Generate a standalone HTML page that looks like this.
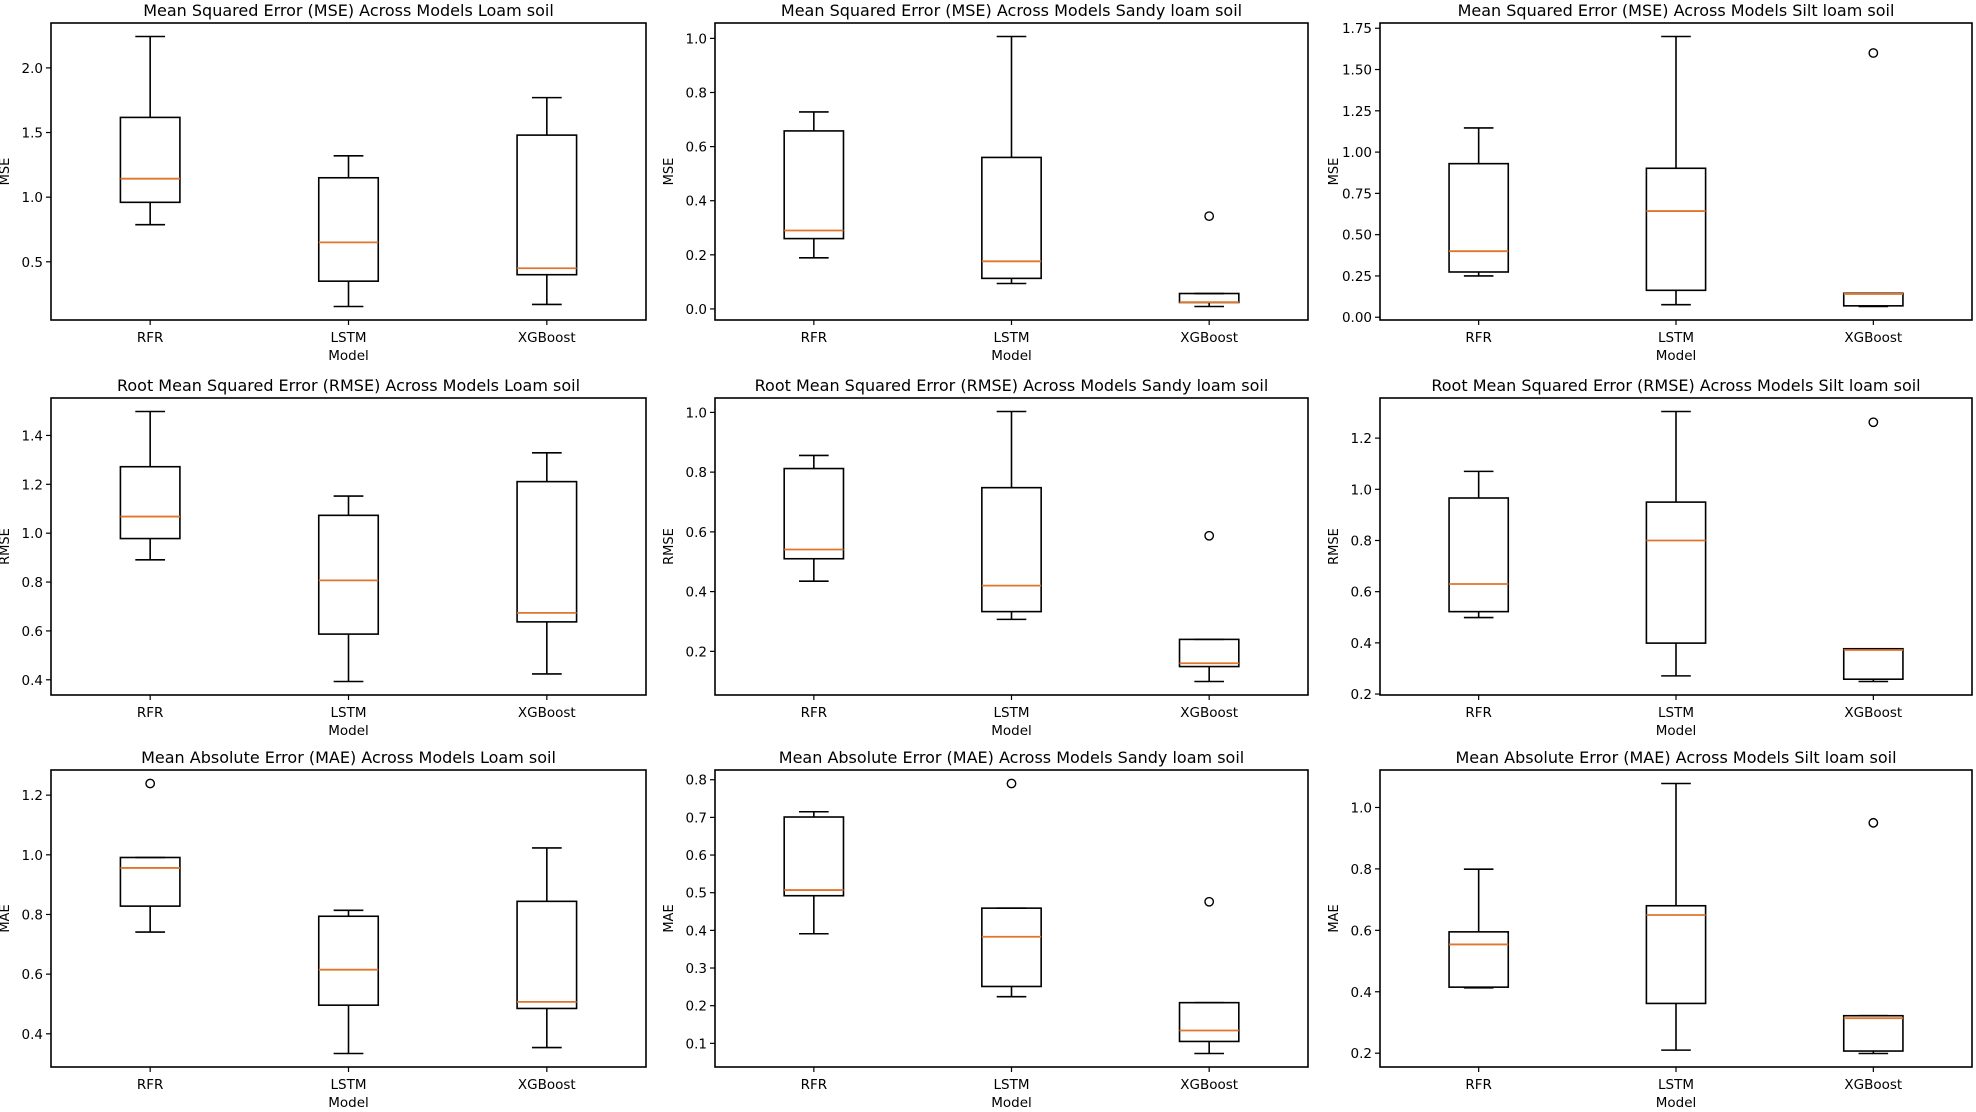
<!DOCTYPE html>
<html><head><meta charset="utf-8"><style>
body{margin:0;background:#fff;}
svg{display:block;font-family:"DejaVu Sans","Liberation Sans",sans-serif;}
</style></head><body>
<svg id="fig" width="1976" height="1112" viewBox="0 0 1976 1112"></svg>
<script>
const categories = ["RFR","LSTM","XGBoost"];
const titles = [
 "Mean Squared Error (MSE) Across Models Loam soil","Mean Squared Error (MSE) Across Models Sandy loam soil","Mean Squared Error (MSE) Across Models Silt loam soil",
 "Root Mean Squared Error (RMSE) Across Models Loam soil","Root Mean Squared Error (RMSE) Across Models Sandy loam soil","Root Mean Squared Error (RMSE) Across Models Silt loam soil",
 "Mean Absolute Error (MAE) Across Models Loam soil","Mean Absolute Error (MAE) Across Models Sandy loam soil","Mean Absolute Error (MAE) Across Models Silt loam soil"];
const ylabels = ["MSE","MSE","MSE","RMSE","RMSE","RMSE","MAE","MAE","MAE"];
// each stat: [whiskerLow, Q1, median, Q3, whiskerHigh] per model
const stats = [
 [[0.787,0.96,1.143,1.617,2.243],[0.154,0.35,0.65,1.15,1.32],[0.17,0.40,0.45,1.48,1.77]],
 [[0.189,0.26,0.29,0.658,0.728],[0.094,0.113,0.176,0.56,1.007],[0.009,0.024,0.025,0.057,0.057]],
 [[0.25,0.274,0.40,0.93,1.146],[0.076,0.163,0.643,0.902,1.70],[0.065,0.069,0.141,0.145,0.145]],
 [[0.891,0.978,1.068,1.272,1.498],[0.393,0.587,0.807,1.073,1.152],[0.424,0.637,0.674,1.211,1.329]],
 [[0.435,0.51,0.541,0.812,0.856],[0.307,0.333,0.42,0.748,1.003],[0.099,0.149,0.16,0.240,0.240]],
 [[0.499,0.522,0.63,0.966,1.07],[0.271,0.399,0.80,0.95,1.304],[0.249,0.258,0.372,0.377,0.377]],
 [[0.741,0.828,0.956,0.991,0.991],[0.334,0.496,0.615,0.794,0.814],[0.354,0.485,0.507,0.844,1.023]],
 [[0.391,0.492,0.507,0.701,0.715],[0.224,0.251,0.383,0.459,0.459],[0.073,0.105,0.134,0.208,0.208]],
 [[0.413,0.415,0.554,0.595,0.799],[0.21,0.362,0.65,0.68,1.078],[0.199,0.207,0.314,0.322,0.322]]];
const fliers = [
 [[],[],[]],[[],[],[0.343]],[[],[],[1.60]],
 [[],[],[]],[[],[],[0.587]],[[],[],[1.262]],
 [[1.239],[],[]],[[],[0.790],[0.476]],[[],[],[0.95]]];
const ticks = [
 [0.5,1.0,1.5,2.0],[0.0,0.2,0.4,0.6,0.8,1.0],[0.00,0.25,0.50,0.75,1.00,1.25,1.50,1.75],
 [0.4,0.6,0.8,1.0,1.2,1.4],[0.2,0.4,0.6,0.8,1.0],[0.2,0.4,0.6,0.8,1.0,1.2],
 [0.4,0.6,0.8,1.0,1.2],[0.1,0.2,0.3,0.4,0.5,0.6,0.7,0.8],[0.2,0.4,0.6,0.8,1.0]];
const tickDecimals = [1,1,2,1,1,1,1,1,1];

const NS="http://www.w3.org/2000/svg";
const svg=document.getElementById('fig');
const colX=[[51,646],[715,1308],[1380,1972]];
const rowY=[[23,320],[398,695],[770,1067]];
function mk(tag,attrs,parent){const e=document.createElementNS(NS,tag);for(const k in attrs)e.setAttribute(k,attrs[k]);(parent||svg).appendChild(e);return e;}

for(let p=0;p<9;p++){
 const r=Math.floor(p/3),c=p%3;
 const [x0,x1]=colX[c],[y0,y1]=rowY[r];
 const g=mk('g',{});
 
 
 let lo=Infinity,hi=-Infinity;
 stats[p].forEach((s,i)=>{lo=Math.min(lo,s[0],...fliers[p][i]);hi=Math.max(hi,s[4],...fliers[p][i]);});
 const m=(hi-lo)*0.05, ymin=lo-m, ymax=hi+m;
 const Y=v=>y1-(v-ymin)/(ymax-ymin)*(y1-y0);
 const X=i=>x0+(i+0.5)/3*(x1-x0);
 const bw=(x1-x0)*0.3/3;
 // title
 const t=mk('text',{x:(x0+x1)/2,y:y0-7,'text-anchor':'middle','font-size':16,fill:'#000'},g);
 t.textContent=titles[p];
 
 
 // y label
 const yl=mk('text',{x:0,y:0,'text-anchor':'middle','font-size':13,fill:'#000',transform:`translate(${x0-42},${(y0+y1)/2}) rotate(-90)`},g);
 yl.textContent=ylabels[p];
 
 
 // y ticks
 ticks[p].forEach(v=>{
  const y=Y(v);
  mk('line',{x1:x0-5,x2:x0,y1:y,y2:y,stroke:'#000','stroke-width':1.2},g);
  const tl=mk('text',{x:x0-8,y:y+5,'text-anchor':'end','font-size':13.5,fill:'#000'},g);
  tl.textContent=v.toFixed(tickDecimals[p]);
  
  
 });
 // boxes
 stats[p].forEach((s,i)=>{
  const cx=X(i);
  const bg=mk('g',{stroke:'#000','stroke-width':1.6,fill:'none'},g);
  
  
  mk('line',{x1:cx,x2:cx,y1:Y(s[0]),y2:Y(s[1])},bg);
  mk('line',{x1:cx,x2:cx,y1:Y(s[3]),y2:Y(s[4])},bg);
  mk('line',{x1:cx-bw/4,x2:cx+bw/4,y1:Y(s[0]),y2:Y(s[0])},bg);
  mk('line',{x1:cx-bw/4,x2:cx+bw/4,y1:Y(s[4]),y2:Y(s[4])},bg);
  mk('rect',{x:cx-bw/2,y:Y(s[3]),width:bw,height:Y(s[1])-Y(s[3])},bg);
  mk('line',{x1:cx-bw/2,x2:cx+bw/2,y1:Y(s[2]),y2:Y(s[2]),stroke:'#e0752c','stroke-width':1.8},bg);
  fliers[p][i].forEach(f=>{
   const fc=mk('circle',{cx:cx,cy:Y(f),r:4.2,'stroke-width':1.4},bg);
   
   
  });
  mk('line',{x1:cx,x2:cx,y1:y1,y2:y1+5,stroke:'#000','stroke-width':1.2},g);
  const xl=mk('text',{x:cx,y:y1+22,'text-anchor':'middle','font-size':13.5,fill:'#000'},g);
  xl.textContent=categories[i];
  
  
 });
 const xt=mk('text',{x:(x0+x1)/2,y:y1+40,'text-anchor':'middle','font-size':13.5,fill:'#000'},g);
 xt.textContent='Model';
 
 
 const fr=mk('rect',{x:x0,y:y0,width:x1-x0,height:y1-y0,fill:'none',stroke:'#000','stroke-width':1.6},g);
 
 
}
</script>
</body></html>
